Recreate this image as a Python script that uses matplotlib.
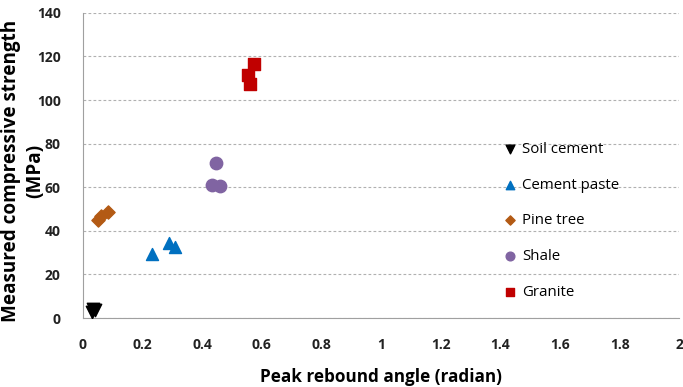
import matplotlib.pyplot as plt

# data
soil_x = [0.030, 0.035, 0.040]
soil_y = [3.0, 4.0, 3.5]
cement_x = [0.233, 0.287, 0.309]
cement_y = [29.5, 34.5, 32.5]
pine_x = [0.050, 0.060, 0.085]
pine_y = [45.0, 47.0, 48.5]
shale_x = [0.433, 0.447, 0.458]
shale_y = [61.0, 71.0, 60.5]
granite_x = [0.553, 0.560, 0.575]
granite_y = [111.5, 107.5, 116.5]

x_ticks = [0, 0.2, 0.4, 0.6, 0.8, 1, 1.2, 1.4, 1.6, 1.8, 2]
x_tick_labels = ["0", "0.2", "0.4", "0.6", "0.8", "1", "1.2", "1.4", "1.6", "1.8", "2"]
y_ticks = [0, 20, 40, 60, 80, 100, 120, 140]


def main():
    plt.rcParams["font.family"] = ["Open Sans", "DejaVu Sans"]
    fig = plt.figure(figsize=(6.83, 3.87), dpi=100)
    ax = fig.add_axes([0.1215, 0.178, 0.873, 0.789])

    ax.scatter(soil_x, soil_y, marker='v', s=80, color='black', label='Soil cement', zorder=3)
    ax.scatter(cement_x, cement_y, marker='^', s=75, color='#0070C0', label='Cement paste', zorder=3)
    ax.scatter(pine_x, pine_y, marker='D', s=45, color='#B35A14', label='Pine tree', zorder=3)
    ax.scatter(shale_x, shale_y, marker='o', s=80, color='#8064A2', label='Shale', zorder=3)
    ax.scatter(granite_x, granite_y, marker='s', s=70, color='#C00000', label='Granite', zorder=3)

    ax.set_xlim(0, 2)
    ax.set_ylim(0, 140)
    ax.set_xticks(x_ticks)
    ax.set_xticklabels(x_tick_labels)
    ax.set_yticks(y_ticks)
    ax.tick_params(length=0, labelsize=10)
    ax.tick_params(axis='x', pad=14)
    ax.tick_params(axis='y', pad=16)
    for t in ax.get_xticklabels() + ax.get_yticklabels():
        t.set_fontweight('bold')
        t.set_color('#222222')

    ax.yaxis.grid(True, linestyle=(0, (2.5, 2)), color='#b0b0b0', linewidth=0.8)
    ax.set_axisbelow(True)
    for s in ['top', 'right']:
        ax.spines[s].set_visible(False)
    ax.spines['left'].set_color('#a0a0a0')
    ax.spines['bottom'].set_color('#a0a0a0')

    ax.set_xlabel('Peak rebound angle (radian)', fontsize=12.3, fontweight='bold', labelpad=12)
    # y label drawn as two lines so each box stays narrow
    fig.text(0.016, 0.558, 'Measured compressive strength', rotation=90,
             ha='center', va='center', fontsize=13.6, fontweight='bold')
    fig.text(0.052, 0.558, '(MPa)', rotation=90,
             ha='center', va='center', fontsize=13.6, fontweight='bold')

    fig.legend(loc='upper left', bbox_to_anchor=(0.720, 0.668), frameon=False,
               fontsize=10.8, labelspacing=1.38, handlelength=0.6, handletextpad=0.5,
               markerscale=0.7)

    fig.savefig('out.png', dpi=100)


if __name__ == '__main__':
    main()
